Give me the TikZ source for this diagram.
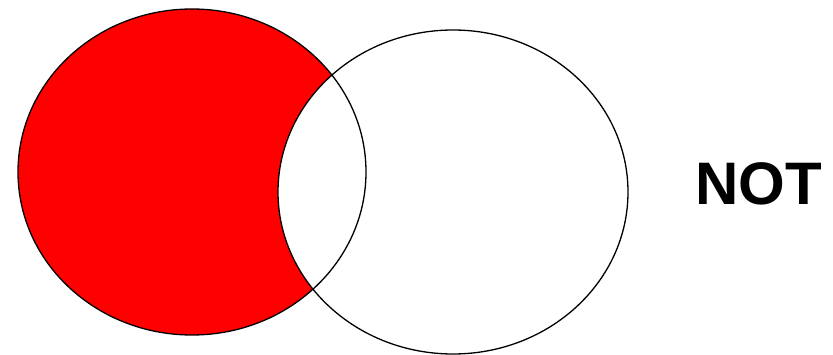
\documentclass[tikz,border=0pt]{standalone}
\usepackage{fontspec}
\setmainfont{Liberation Sans}
\definecolor{vennred}{RGB}{255,0,0}
\begin{document}
\begin{tikzpicture}[x=1pt,y=-1pt,
  outline/.style={draw=black,line width=1.3pt},
  label/.style={font=\fontsize{60}{60}\selectfont\bfseries,text=black,inner sep=0pt,anchor=west}]
\useasboundingbox (0,0) rectangle (833,355);
% red fill of left set
\fill[vennred] (192,172) ellipse [x radius=174, y radius=163];
% remove intersection
\begin{scope}
  \clip (192,172) ellipse [x radius=174, y radius=163];
  \fill[white] (453,192) ellipse [x radius=175, y radius=162];
\end{scope}
% outlines
\draw[outline] (192,172) ellipse [x radius=174, y radius=163];
\draw[outline] (453,192) ellipse [x radius=175, y radius=162];
\node[label] (notlabel) at (695,184) {NOT};
\end{tikzpicture}
\end{document}
